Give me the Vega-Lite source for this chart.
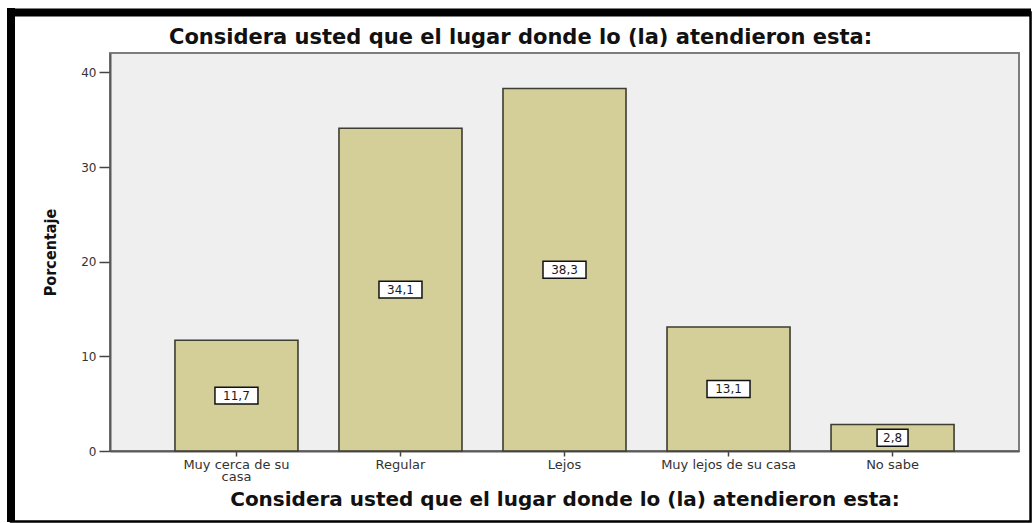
{
  "$schema": "https://vega.github.io/schema/vega-lite/v6.json",
  "width": 909,
  "height": 398,
  "autosize": {"type": "none"},
  "padding": {"left": 110, "top": 53, "right": 14, "bottom": 72},
  "background": "white",
  "config": {
    "locale": {"number": {"decimal": ",", "thousands": ".", "grouping": [3], "currency": ["", " €"]}},
    "view": {"fill": "#efefef", "stroke": "#7d7d7d", "strokeWidth": 2},
    "axis": {
      "labelFont": "DejaVu Sans",
      "labelFontSize": 12,
      "labelColor": "#333333",
      "titleFont": "DejaVu Sans",
      "titleFontSize": 20,
      "titleFontWeight": "bold",
      "titleColor": "#111111",
      "domainColor": "#5a5a5a",
      "domainWidth": 2,
      "tickColor": "#444444",
      "tickWidth": 1.5,
      "grid": false
    }
  },
  "title": {
    "text": "Considera usted que el lugar donde lo (la) atendieron esta:",
    "font": "DejaVu Sans",
    "fontSize": 21,
    "fontWeight": "bold",
    "color": "#111111",
    "anchor": "middle",
    "frame": "group",
    "dx": -44,
    "offset": -44
  },
  "data": {
    "values": [
      {"categoria": "Muy cerca de su casa", "porcentaje": 11.7},
      {"categoria": "Regular", "porcentaje": 34.1},
      {"categoria": "Lejos", "porcentaje": 38.3},
      {"categoria": "Muy lejos de su casa", "porcentaje": 13.1},
      {"categoria": "No sabe", "porcentaje": 2.8}
    ]
  },
  "layer": [
    {
      "data": {"values": [{}]},
      "layer": [
        {
          "mark": {"type": "rect", "fill": "transparent", "stroke": "#000000", "strokeWidth": 2.5},
          "encoding": {
            "x": {"datum": -0.1089, "type": "quantitative", "scale": {"domain": [0, 1], "nice": false, "zero": false}, "axis": null},
            "x2": {"datum": 1.0127},
            "y": {"datum": 46.33, "type": "quantitative", "scale": {"domain": [0, 42.05], "nice": false}, "axis": null},
            "y2": {"datum": -7.45}
          }
        },
        {
          "mark": {"type": "rule", "stroke": "#000000", "strokeWidth": 8},
          "encoding": {
            "x": {"datum": -0.1089, "type": "quantitative"},
            "y": {"datum": 46.8, "type": "quantitative"},
            "y2": {"datum": -7.5}
          }
        },
        {
          "mark": {"type": "rule", "stroke": "#000000", "strokeWidth": 8},
          "encoding": {
            "x": {"datum": -0.1133, "type": "quantitative"},
            "x2": {"datum": 1.0132},
            "y": {"datum": 46.33, "type": "quantitative"}
          }
        }
      ]
    },
    {
      "mark": {"type": "bar", "fill": "#d4cf98", "stroke": "#3d3d33", "strokeWidth": 1.6},
      "encoding": {
        "x": {
          "field": "categoria",
          "type": "nominal",
          "sort": null,
          "scale": {"type": "band", "paddingInner": 0.25, "paddingOuter": 0.396},
          "axis": {
            "orient": "bottom",
            "title": "Considera usted que el lugar donde lo (la) atendieron esta:",
            "labelAngle": 0,
            "labelFontSize": 13,
            "labelExpr": "datum.value == 'Muy cerca de su casa' ? ['Muy cerca de su', 'casa'] : datum.value",
            "labelLineHeight": 12,
            "labelPadding": 2,
            "tickSize": 5,
            "titlePadding": 6
          }
        },
        "y": {
          "field": "porcentaje",
          "type": "quantitative",
          "scale": {"domain": [0, 42.05], "nice": false},
          "axis": {
            "orient": "left",
            "title": "Porcentaje",
            "values": [0, 10, 20, 30, 40],
            "tickSize": 11,
            "labelPadding": 3,
            "titleFont": "Liberation Sans Narrow, DejaVu Sans Condensed, sans-serif",
            "titleFontSize": 16,
            "titlePadding": 22
          }
        }
      }
    },
    {
      "layer": [
        {
          "mark": {"type": "point", "filled": true, "fill": "white", "stroke": "#111111", "strokeWidth": 1.5, "opacity": 1, "size": 1849},
          "encoding": {
            "x": {"field": "categoria", "type": "nominal", "sort": null, "scale": {"type": "band", "paddingInner": 0.25, "paddingOuter": 0.396}, "axis": null},
            "y": {"field": "porcentaje", "type": "quantitative", "scale": {"domain": [0, 84.1], "nice": false}, "axis": null},
            "shape": {
              "condition": {"test": "datum.porcentaje < 10", "value": "M-0.72,-0.395H0.72V0.395H-0.72Z"},
              "value": "M-1,-0.395H1V0.395H-1Z"
            }
          }
        },
        {
          "mark": {"type": "text", "font": "DejaVu Sans", "fontSize": 12, "color": "#1a1a1a", "baseline": "middle", "align": "center"},
          "encoding": {
            "x": {"field": "categoria", "type": "nominal", "sort": null},
            "y": {"field": "porcentaje", "type": "quantitative"},
            "text": {"field": "porcentaje", "type": "quantitative", "format": ".1f"}
          }
        }
      ]
    }
  ],
  "resolve": {"scale": {"x": "independent", "y": "independent"}}
}
